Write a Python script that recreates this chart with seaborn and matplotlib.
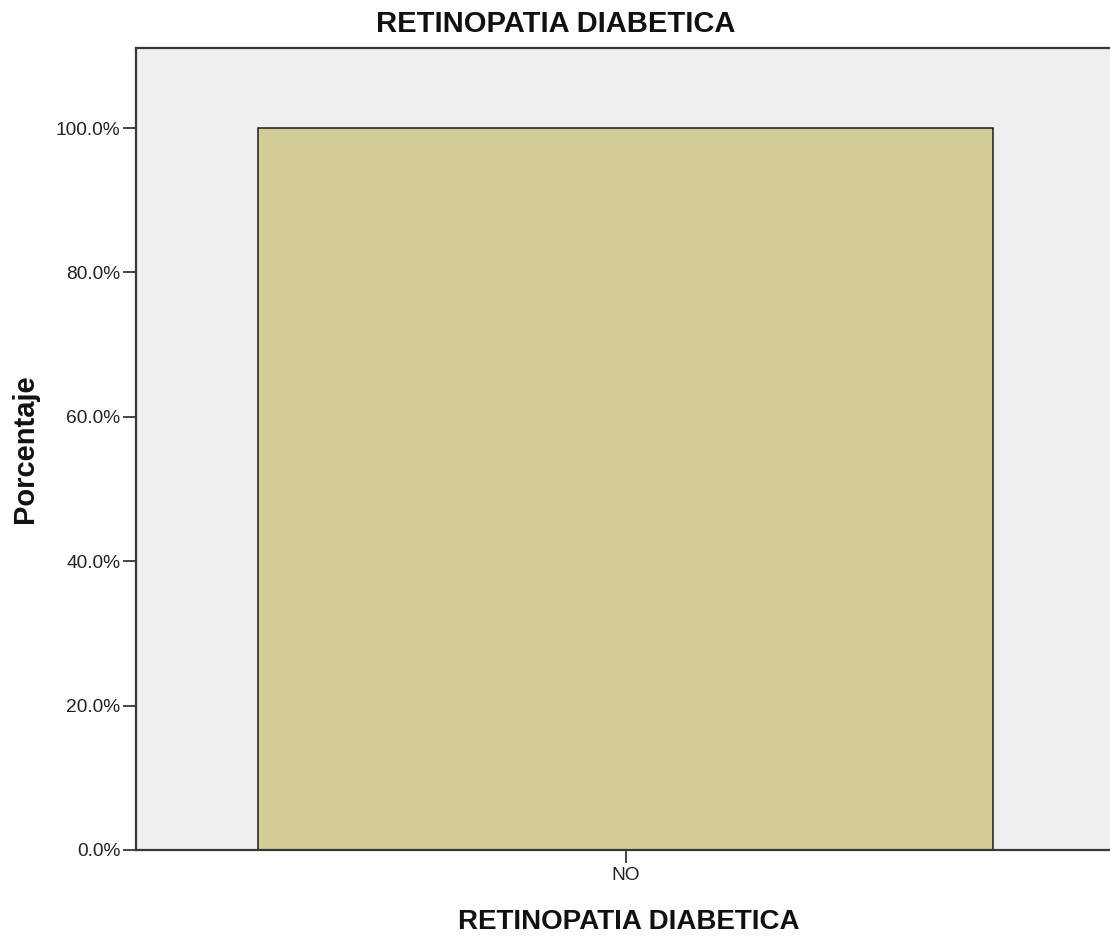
import matplotlib
matplotlib.use("Agg")
import matplotlib.pyplot as plt
import seaborn as sns
import pandas as pd
from matplotlib.ticker import FuncFormatter

categories = ["NO"]
percentages = [100.0]
y_ticks = [0, 20, 40, 60, 80, 100]

df = pd.DataFrame({"RETINOPATIA DIABETICA": categories, "Porcentaje": percentages})

sns.set_theme(style="white")
plt.rcParams["font.family"] = ["Liberation Sans", "DejaVu Sans"]

W, H = 1110, 936
fig = plt.figure(figsize=(W / 100, H / 100), dpi=100)
ax_left, ax_bottom, ax_w, ax_h = 136, 850, 979, 802.5
ax = fig.add_axes([ax_left / W, (H - ax_bottom) / H, ax_w / W, ax_h / H])
ax.set_facecolor("#EFEFEF")

sns.barplot(data=df, x="RETINOPATIA DIABETICA", y="Porcentaje", ax=ax,
            color="#D2CD97", width=0.75, edgecolor="#1a1a1a", linewidth=1.1,
            saturation=1)

ax.set_xlim(-0.5, 0.5)
ax.set_ylim(0, 111.15)
ax.set_yticks(y_ticks)
ax.yaxis.set_major_formatter(FuncFormatter(lambda v, p: f"{v:.1f}%"))

for side in ["left", "top", "bottom"]:
    ax.spines[side].set_visible(True)
    ax.spines[side].set_color("#383838")
    ax.spines[side].set_linewidth(1.6)
ax.spines["right"].set_visible(False)

ax.tick_params(axis="both", direction="out", length=9.4, width=1.3, color="#383838",
               labelsize=13.8, labelcolor="#222222")
ax.tick_params(axis="y", left=True, pad=2)
ax.tick_params(axis="x", bottom=True, pad=3)

# axis labels anchored on their baselines
ax.set_xlabel("RETINOPATIA DIABETICA", fontsize=20, fontweight="bold", color="#111111")
ax.xaxis.label.set_va("baseline")
ax.xaxis.set_label_coords(0.5 + 3 / ax_w, -(929 - ax_bottom) / ax_h)

ax.set_ylabel("Porcentaje", fontsize=21, fontweight="bold", color="#111111")
ax.yaxis.label.set_rotation_mode("anchor")
ax.yaxis.label.set_ha("center")
ax.yaxis.label.set_va("baseline")
ax.yaxis.set_label_coords(-(ax_left - 33) / ax_w, 0.5)

fig.text(556 / W, 1 - 32 / H, "RETINOPATIA DIABETICA", ha="center", va="baseline",
         fontsize=21, fontweight="bold", color="#111111")

fig.savefig("out.png", dpi=100, facecolor="white")
